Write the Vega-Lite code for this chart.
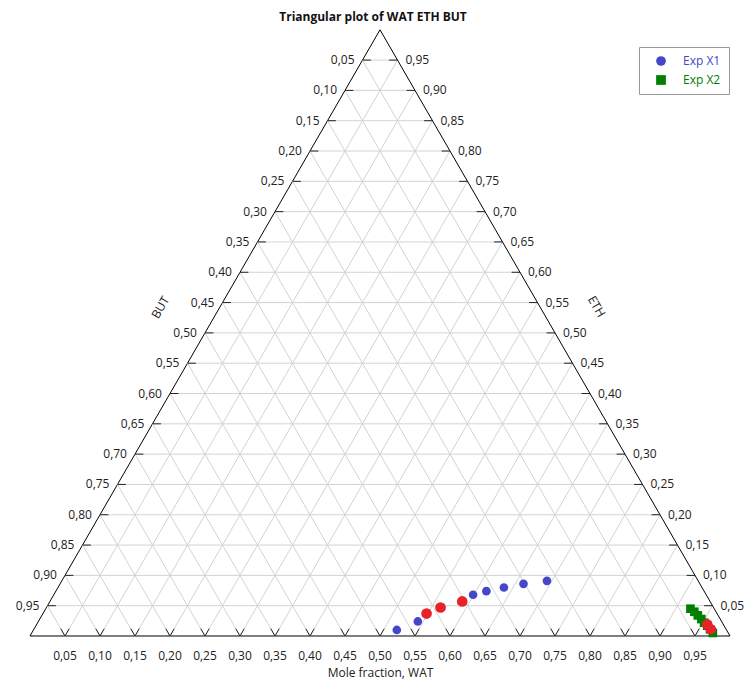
{
  "$schema": "https://vega.github.io/schema/vega-lite/v6.json",
  "width": 746,
  "height": 630,
  "autosize": {"type": "none"},
  "padding": {"top": 30, "left": 0, "right": 0, "bottom": 24},
  "background": "white",
  "title": {"text": "Triangular plot of WAT ETH BUT", "fontSize": 12, "fontWeight": "bold", "font": "Open Sans", "color": "#111111", "anchor": "middle", "offset": 0, "baseline": "middle"},
  "config": {"view": {"stroke": null}, "font": "Open Sans"},
  "datasets": {
    "grid": [{"v": 0}, {"v": 0.05}, {"v": 0.1}, {"v": 0.15}, {"v": 0.2}, {"v": 0.25}, {"v": 0.3}, {"v": 0.35}, {"v": 0.4}, {"v": 0.45}, {"v": 0.5}, {"v": 0.55}, {"v": 0.6}, {"v": 0.65}, {"v": 0.7}, {"v": 0.75}, {"v": 0.8}, {"v": 0.85}, {"v": 0.9}, {"v": 0.95}],
    "pts": [
      {"series": "Exp X1", "WAT": 0.519, "ETH": 0.010, "BUT": 0.471},
      {"series": "Exp X1", "WAT": 0.542, "ETH": 0.024, "BUT": 0.434},
      {"series": "Exp X1", "WAT": 0.599, "ETH": 0.068, "BUT": 0.333},
      {"series": "Exp X1", "WAT": 0.615, "ETH": 0.074, "BUT": 0.311},
      {"series": "Exp X1", "WAT": 0.637, "ETH": 0.080, "BUT": 0.283},
      {"series": "Exp X1", "WAT": 0.662, "ETH": 0.086, "BUT": 0.252},
      {"series": "Exp X1", "WAT": 0.693, "ETH": 0.091, "BUT": 0.216},
      {"series": "Exp X2", "WAT": 0.921, "ETH": 0.045, "BUT": 0.034},
      {"series": "Exp X2", "WAT": 0.929, "ETH": 0.040, "BUT": 0.031},
      {"series": "Exp X2", "WAT": 0.937, "ETH": 0.034, "BUT": 0.029},
      {"series": "Exp X2", "WAT": 0.945, "ETH": 0.028, "BUT": 0.027},
      {"series": "Exp X2", "WAT": 0.952, "ETH": 0.022, "BUT": 0.026},
      {"series": "Exp X2", "WAT": 0.959, "ETH": 0.017, "BUT": 0.024},
      {"series": "Exp X2", "WAT": 0.966, "ETH": 0.011, "BUT": 0.023},
      {"series": "Exp X2", "WAT": 0.973, "ETH": 0.005, "BUT": 0.022},
      {"series": "Calc", "WAT": 0.548, "ETH": 0.037, "BUT": 0.415},
      {"series": "Calc", "WAT": 0.563, "ETH": 0.047, "BUT": 0.390},
      {"series": "Calc", "WAT": 0.589, "ETH": 0.057, "BUT": 0.354},
      {"series": "Calc", "WAT": 0.958, "ETH": 0.019, "BUT": 0.023},
      {"series": "Calc", "WAT": 0.967, "ETH": 0.011, "BUT": 0.022}
    ]
  },
  "resolve": {"scale": {"x": "shared", "y": "shared"}, "axis": {"x": "independent", "y": "independent"}},
  "layer": [
    {
      "data": {"name": "grid"},
      "transform": [
        {"calculate": "datum.v/2", "as": "xa"},
        {"calculate": "1 - datum.v/2", "as": "xb"},
        {"calculate": "datum.v*sqrt(3)/2", "as": "ya"}
      ],
      "mark": {"type": "rule", "strokeWidth": 1},
      "encoding": {
        "x": {"field": "xa", "type": "quantitative", "scale": {"domain": [-0.042857, 1.022857], "nice": false, "zero": false},
              "axis": {"orient": "bottom", "title": "Mole fraction, WAT", "domain": false, "ticks": false, "labels": false, "grid": false, "titleFontSize": 12, "titleFontWeight": "normal", "titleColor": "#222222", "titleX": 380, "titleY": 12, "titleAlign": "center", "titleBaseline": "middle", "titleFont": "Open Sans"}},
        "x2": {"field": "xb"},
        "y": {"field": "ya", "type": "quantitative", "scale": {"domain": [-0.034286, 0.865714], "nice": false, "zero": false},
              "axis": {"orient": "left", "title": "BUT", "domain": false, "ticks": false, "labels": false, "grid": false, "titleFontSize": 12, "titleFontWeight": "normal", "titleColor": "#222222", "titleAngle": -60, "titleX": 160, "titleY": 277, "titleAlign": "center", "titleBaseline": "middle", "titleFont": "Open Sans"}},
        "y2": {"field": "ya"},
        "color": {"condition": {"test": "datum.v == 0", "value": "#000000"}, "value": "#d3d3d3"}
      }
    },
    {
      "data": {"name": "grid"},
      "transform": [
        {"calculate": "datum.v", "as": "xa"},
        {"calculate": "(1 + datum.v)/2", "as": "xb"},
        {"calculate": "0", "as": "ya"},
        {"calculate": "(1 - datum.v)*sqrt(3)/2", "as": "yb"}
      ],
      "mark": {"type": "rule", "strokeWidth": 1},
      "encoding": {
        "x": {"field": "xa", "type": "quantitative", "scale": {"domain": [-0.042857, 1.022857], "nice": false, "zero": false}, "axis": null},
        "x2": {"field": "xb"},
        "y": {"field": "ya", "type": "quantitative", "scale": {"domain": [-0.034286, 0.865714], "nice": false, "zero": false},
              "axis": {"orient": "right", "title": "ETH", "domain": false, "ticks": false, "labels": false, "grid": false, "titleFontSize": 12, "titleFontWeight": "normal", "titleColor": "#222222", "titleAngle": 60, "titleX": -150, "titleY": 276, "titleAlign": "center", "titleBaseline": "middle", "titleFont": "Open Sans"}},
        "y2": {"field": "yb"},
        "color": {"condition": {"test": "datum.v == 0", "value": "#000000"}, "value": "#d3d3d3"}
      }
    },
    {
      "data": {"name": "grid"},
      "transform": [
        {"calculate": "1 - datum.v", "as": "xa"},
        {"calculate": "(1 - datum.v)/2", "as": "xb"},
        {"calculate": "0", "as": "ya"},
        {"calculate": "(1 - datum.v)*sqrt(3)/2", "as": "yb"}
      ],
      "mark": {"type": "rule", "strokeWidth": 1},
      "encoding": {
        "x": {"field": "xa", "type": "quantitative", "scale": {"domain": [-0.042857, 1.022857], "nice": false, "zero": false}, "axis": null},
        "x2": {"field": "xb"},
        "y": {"field": "ya", "type": "quantitative", "scale": {"domain": [-0.034286, 0.865714], "nice": false, "zero": false}, "axis": null},
        "y2": {"field": "yb"},
        "color": {"condition": {"test": "datum.v == 0", "value": "#000000"}, "value": "#d3d3d3"}
      }
    },
    {
      "data": {"name": "grid"},
      "transform": [
        {"filter": "datum.v > 0"},
        {"calculate": "datum.v/2", "as": "xa"},
        {"calculate": "datum.v/2 + 0.012", "as": "xb"},
        {"calculate": "datum.v*sqrt(3)/2", "as": "ya"}
      ],
      "mark": {"type": "rule", "strokeWidth": 1, "color": "#222222"},
      "encoding": {
        "x": {"field": "xa", "type": "quantitative", "scale": {"domain": [-0.042857, 1.022857], "nice": false, "zero": false}, "axis": null},
        "x2": {"field": "xb"},
        "y": {"field": "ya", "type": "quantitative", "scale": {"domain": [-0.034286, 0.865714], "nice": false, "zero": false}, "axis": null},
        "y2": {"field": "ya"}
      }
    },
    {
      "data": {"name": "grid"},
      "transform": [
        {"filter": "datum.v > 0"},
        {"calculate": "1 - datum.v/2 - 0.012", "as": "xa"},
        {"calculate": "1 - datum.v/2", "as": "xb"},
        {"calculate": "datum.v*sqrt(3)/2", "as": "ya"}
      ],
      "mark": {"type": "rule", "strokeWidth": 1, "color": "#222222"},
      "encoding": {
        "x": {"field": "xa", "type": "quantitative", "scale": {"domain": [-0.042857, 1.022857], "nice": false, "zero": false}, "axis": null},
        "x2": {"field": "xb"},
        "y": {"field": "ya", "type": "quantitative", "scale": {"domain": [-0.034286, 0.865714], "nice": false, "zero": false}, "axis": null},
        "y2": {"field": "ya"}
      }
    },
    {
      "data": {"name": "grid"},
      "transform": [
        {"filter": "datum.v > 0"},
        {"calculate": "datum.v - 0.006", "as": "xa"},
        {"calculate": "datum.v", "as": "xb"},
        {"calculate": "0.012*sqrt(3)/2", "as": "ya"},
        {"calculate": "0", "as": "yb"}
      ],
      "mark": {"type": "rule", "strokeWidth": 1, "color": "#222222"},
      "encoding": {
        "x": {"field": "xa", "type": "quantitative", "scale": {"domain": [-0.042857, 1.022857], "nice": false, "zero": false}, "axis": null},
        "x2": {"field": "xb"},
        "y": {"field": "ya", "type": "quantitative", "scale": {"domain": [-0.034286, 0.865714], "nice": false, "zero": false}, "axis": null},
        "y2": {"field": "yb"}
      }
    },
    {
      "data": {"name": "grid"},
      "transform": [
        {"filter": "datum.v > 0"},
        {"calculate": "datum.v + 0.006", "as": "xa"},
        {"calculate": "datum.v", "as": "xb"},
        {"calculate": "0.012*sqrt(3)/2", "as": "ya"},
        {"calculate": "0", "as": "yb"}
      ],
      "mark": {"type": "rule", "strokeWidth": 1, "color": "#222222"},
      "encoding": {
        "x": {"field": "xa", "type": "quantitative", "scale": {"domain": [-0.042857, 1.022857], "nice": false, "zero": false}, "axis": null},
        "x2": {"field": "xb"},
        "y": {"field": "ya", "type": "quantitative", "scale": {"domain": [-0.034286, 0.865714], "nice": false, "zero": false}, "axis": null},
        "y2": {"field": "yb"}
      }
    },
    {
      "data": {"name": "grid"},
      "transform": [
        {"filter": "datum.v > 0"},
        {"calculate": "replace(format(datum.v, '.2f'), '.', ',')", "as": "lab"}
      ],
      "mark": {"type": "text", "fontSize": 12, "font": "Open Sans", "color": "#222222", "baseline": "middle", "align": "center", "dy": 20},
      "encoding": {
        "x": {"field": "v", "type": "quantitative", "scale": {"domain": [-0.042857, 1.022857], "nice": false, "zero": false}, "axis": null},
        "y": {"datum": 0, "type": "quantitative", "scale": {"domain": [-0.034286, 0.865714], "nice": false, "zero": false}, "axis": null},
        "text": {"field": "lab"}
      }
    },
    {
      "data": {"name": "grid"},
      "transform": [
        {"filter": "datum.v > 0"},
        {"calculate": "replace(format(1 - datum.v, '.2f'), '.', ',')", "as": "lab"},
        {"calculate": "datum.v/2", "as": "xa"},
        {"calculate": "datum.v*sqrt(3)/2", "as": "ya"}
      ],
      "mark": {"type": "text", "fontSize": 12, "font": "Open Sans", "color": "#222222", "baseline": "middle", "align": "right", "dx": -8},
      "encoding": {
        "x": {"field": "xa", "type": "quantitative", "scale": {"domain": [-0.042857, 1.022857], "nice": false, "zero": false}, "axis": null},
        "y": {"field": "ya", "type": "quantitative", "scale": {"domain": [-0.034286, 0.865714], "nice": false, "zero": false}, "axis": null},
        "text": {"field": "lab"}
      }
    },
    {
      "data": {"name": "grid"},
      "transform": [
        {"filter": "datum.v > 0"},
        {"calculate": "replace(format(datum.v, '.2f'), '.', ',')", "as": "lab"},
        {"calculate": "1 - datum.v/2", "as": "xa"},
        {"calculate": "datum.v*sqrt(3)/2", "as": "ya"}
      ],
      "mark": {"type": "text", "fontSize": 12, "font": "Open Sans", "color": "#222222", "baseline": "middle", "align": "left", "dx": 8},
      "encoding": {
        "x": {"field": "xa", "type": "quantitative", "scale": {"domain": [-0.042857, 1.022857], "nice": false, "zero": false}, "axis": null},
        "y": {"field": "ya", "type": "quantitative", "scale": {"domain": [-0.034286, 0.865714], "nice": false, "zero": false}, "axis": null},
        "text": {"field": "lab"}
      }
    },
    {
      "data": {"name": "pts"},
      "transform": [
        {"filter": "datum.series != 'Calc'"},
        {"calculate": "datum.WAT + datum.ETH/2", "as": "px"},
        {"calculate": "datum.ETH*sqrt(3)/2", "as": "py"}
      ],
      "mark": {"type": "point", "filled": true, "opacity": 1, "size": 75},
      "encoding": {
        "x": {"field": "px", "type": "quantitative", "scale": {"domain": [-0.042857, 1.022857], "nice": false, "zero": false}, "axis": null},
        "y": {"field": "py", "type": "quantitative", "scale": {"domain": [-0.034286, 0.865714], "nice": false, "zero": false}, "axis": null},
        "color": {"field": "series", "type": "nominal", "scale": {"domain": ["Exp X1", "Exp X2"], "range": ["#4646c8", "#008000"]},
                  "legend": {"title": null, "orient": "none", "legendX": 639, "legendY": 17, "padding": 8, "symbolOffset": 8, "strokeColor": "#999999", "fillColor": "#ffffff", "symbolSize": 95, "labelFontSize": 12, "labelFont": "Open Sans", "rowPadding": 7, "labelOffset": 16,
                             "labelColor": {"expr": "datum.value === 'Exp X1' ? '#4646c8' : '#008000'"}}},
        "shape": {"field": "series", "type": "nominal", "scale": {"domain": ["Exp X1", "Exp X2"], "range": ["circle", "square"]}}
      }
    },
    {
      "data": {"name": "pts"},
      "transform": [
        {"filter": "datum.series == 'Calc'"},
        {"calculate": "datum.WAT + datum.ETH/2", "as": "px"},
        {"calculate": "datum.ETH*sqrt(3)/2", "as": "py"}
      ],
      "mark": {"type": "circle", "opacity": 1, "size": 115, "color": "#e8222a"},
      "encoding": {
        "x": {"field": "px", "type": "quantitative", "scale": {"domain": [-0.042857, 1.022857], "nice": false, "zero": false}, "axis": null},
        "y": {"field": "py", "type": "quantitative", "scale": {"domain": [-0.034286, 0.865714], "nice": false, "zero": false}, "axis": null}
      }
    }
  ]
}
